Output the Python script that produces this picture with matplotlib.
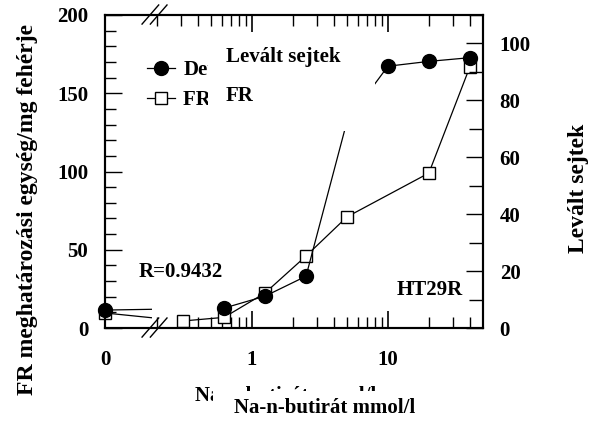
import numpy as np
import matplotlib
matplotlib.use("Agg")
import matplotlib.pyplot as plt
from matplotlib.patches import Rectangle
from matplotlib.lines import Line2D

plt.rcParams['font.family'] = ['Liberation Serif', 'DejaVu Serif']
plt.rcParams['font.weight'] = 'bold'

# data
conc_fr = [0, 0.3125, 0.625, 1.25, 2.5, 5, 20, 40]
fr_values = [9.6, 4.5, 6.8, 22.4, 46, 71, 99, 166.8]
conc_cells = [0, 0.625, 1.25, 2.5, 5, 10, 20, 40]
cells_values = [6.3, 7.0, 11.2, 18.2, 72.6, 92, 93.7, 95]

x_major = [0, 1, 10]
x_major_labels = ["0", "1", "10"]
x_minor = [0.2, 0.3, 0.4, 0.5, 0.6, 0.7, 0.8, 0.9,
           2, 3, 4, 5, 6, 7, 8, 9, 20, 30, 40]

# broken log axis: zero is put at the left edge
X0 = -1.08
def fwd(x):
    x = np.asarray(x, dtype=float)
    return np.where(x > 0, np.log10(np.maximum(x, 1e-12)), X0)
def inv(u):
    return 10.0 ** np.asarray(u, dtype=float)

fig = plt.figure(figsize=(6.06, 4.25), dpi=100)
fig.subplots_adjust(left=105/606, right=483/606, top=1-15/425, bottom=1-328/425)
ax = fig.add_subplot(111)
ax2 = ax.twinx()

ax.set_xscale('function', functions=(fwd, inv))
ax.set_xlim(0, 50)
ax.set_ylim(0, 200)
ax2.set_ylim(0, 110)

# clip box for the segments that leave the zero point (cut at the break)
stub_clip = Rectangle((-0.1, -0.1), 0.224, 1.2, transform=ax.transAxes)
stub_clip2 = Rectangle((-0.1, -0.1), 0.224, 1.2, transform=ax2.transAxes)

sq = dict(marker='s', ms=9, mfc='white', mec='black', mew=1, color='black', lw=0.9)
ci = dict(marker='o', ms=10, mfc='black', mec='black', color='black', lw=0.9)

# FR (left axis)
ax.plot(conc_fr[1:], fr_values[1:], **sq)
l, = ax.plot(conc_fr[:2], fr_values[:2], markevery=[0], **sq)
l.set_clip_path(stub_clip)

# detached cells (right axis)
ax2.plot(conc_cells[1:], cells_values[1:], **ci)
l2, = ax2.plot(conc_cells[:2], cells_values[:2], markevery=[0], **ci)
l2.set_clip_path(stub_clip2)

# ticks
ax.set_xticks(x_major)
ax.set_xticklabels(x_major_labels)
ax.set_xticks(x_minor, minor=True)
ax.set_yticks([0, 50, 100, 150, 200])
ax.set_yticks(np.arange(0, 201, 10), minor=True)
ax2.set_yticks([0, 20, 40, 60, 80, 100])
ax2.set_yticks(np.arange(0, 111, 10), minor=True)
ax.tick_params(axis='x', which='both', direction='in', top=True, labelsize=15, pad=16)
ax.tick_params(axis='x', which='major', length=12, width=1.2)
ax.tick_params(axis='x', which='minor', length=8, width=1)
ax.tick_params(axis='y', which='both', direction='in', right=False, labelsize=15, pad=12)
ax.tick_params(axis='y', which='major', length=12, width=1)
ax.tick_params(axis='y', which='minor', length=8, width=1)
ax2.tick_params(axis='y', which='both', direction='in', labelsize=15, pad=12)
ax2.tick_params(axis='y', which='major', length=12, width=1)
ax2.tick_params(axis='y', which='minor', length=10, width=1)
for a in (ax, ax2):
    for s in a.spines.values():
        s.set_linewidth(1.5)

ax.set_ylabel("FR meghatározási egység/mg fehérje", fontsize=17, fontweight='bold')
ax.yaxis.set_label_coords(-0.177, 0.377)
ax2.set_ylabel("Levált sejtek", fontsize=17, fontweight='bold')
ax2.yaxis.set_label_coords(1.225, 0.446)

# break marks
for dx in (0.0, 0.022):
    for y0, y1 in ((0.971, 1.032), (-0.029, 0.032)):
        ax.plot([0.098 + dx, 0.142 + dx], [y0, y1], transform=ax.transAxes,
                color='black', lw=1, clip_on=False)

# legend
handles = [Line2D([], [], **ci), Line2D([], [], **sq)]
ax2.legend(handles, ["Detached", "FR activity"], loc='upper left',
           bbox_to_anchor=(0.111, 0.856), frameon=False, fontsize=15,
           borderpad=0, borderaxespad=0, handlelength=1.35, handletextpad=0.4,
           labelspacing=0.5)

# white box pasted over the legend with the Hungarian labels
ax2.add_patch(Rectangle((0.272, 0.629), 0.442, 0.30, transform=ax2.transAxes,
                        facecolor='white', edgecolor='none', zorder=6))
ax2.text(0.32, 0.866, "Levált sejtek", transform=ax2.transAxes, fontsize=15,
         fontweight='bold', va='center', zorder=7)
ax2.text(0.32, 0.741, "FR", transform=ax2.transAxes, fontsize=15,
         fontweight='bold', va='center', zorder=7)

ax2.text(0.09, 0.178, "R=0.9432", transform=ax2.transAxes, fontsize=15,
         fontweight='bold', va='center')
ax2.text(0.947, 0.122, "HT29R", transform=ax2.transAxes, fontsize=15,
         fontweight='bold', va='center', ha='right')

# x label, with an older label peeking out from under it
fig.text(195/606, 1-401/425, "Na-n-butirát mmol/l", fontsize=15, fontweight='bold',
         va='baseline', zorder=2)
fig.add_artist(Rectangle((213/606, 0), 1, 1-391/425, transform=fig.transFigure,
                         facecolor='white', edgecolor='none', zorder=3))
fig.text(325/606, 1-413/425, "Na-n-butirát mmol/l", fontsize=15, fontweight='bold',
         va='baseline', ha='center', zorder=4)

fig.savefig("out.png", dpi=100)
